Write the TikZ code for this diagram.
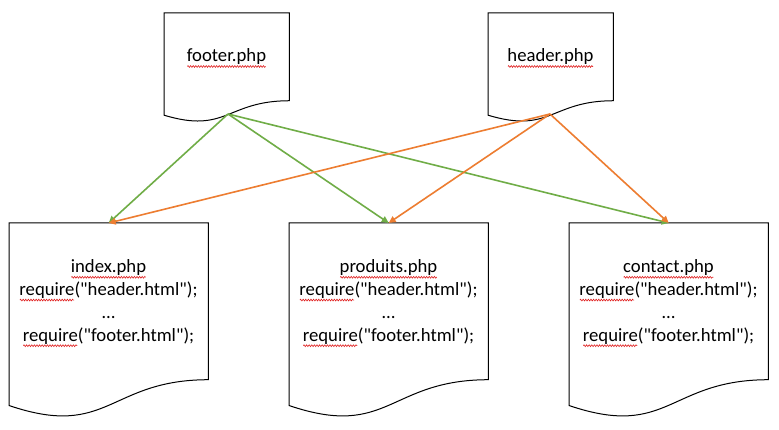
\documentclass[tikz,border=0pt]{standalone}
\usepackage{fontspec}
\newfontfamily\calibri{Carlito}
\usetikzlibrary{arrows.meta,calc,decorations.pathmorphing}
\definecolor{ogreen}{HTML}{70AD47}
\definecolor{oorange}{HTML}{ED7D31}
\definecolor{spellred}{HTML}{E02020}
\newbox\splbox
\newdimen\splw
\newcommand\spl[1]{\setbox\splbox=\hbox{#1}\splw=\wd\splbox
  \rlap{\tikz[overlay,baseline=0pt,x=1pt,y=1pt]\draw[spellred,line width=0.6pt,
    decorate,decoration={zigzag,amplitude=0.9pt,segment length=2.6pt}]
    (0.5,-4.5) -- (\splw-0.5pt,-4.5pt);}\box\splbox}
\newcommand\docpath[1]{%
  \draw[docline] let \p1=(#1.north west), \p2=(#1.south east),
    \n1={\x2-\x1}, \n2={\y1-\y2} in
    (\p1) -- (\x2,\y1) -- (\x2,{\y1-0.802*\n2})
    .. controls ({\x1+0.5*\n1},{\y1-0.802*\n2}) and ({\x1+0.5*\n1},{\y1-1.1075*\n2})
    .. (\x1,{\y1-0.934*\n2}) -- cycle;}
\tikzset{
  docbox/.style={rectangle, draw=none, inner sep=0pt, anchor=north west},
  topdoc/.style={docbox, minimum width=125pt, minimum height=109pt},
  botdoc/.style={docbox, minimum width=199pt, minimum height=195pt},
  docline/.style={draw=black, line width=1pt},
  txt/.style={align=center, inner sep=0pt, font=\calibri\fontsize{18.7}{22.8}\selectfont},
  link/.style={line width=1.6pt, -{Triangle[length=7pt,width=6.5pt]}},
  glink/.style={link, draw=ogreen, fill=ogreen},
  olink/.style={link, draw=oorange, fill=oorange},
}
\begin{document}
\begin{tikzpicture}[x=1pt,y=-1pt]
\useasboundingbox (0,0) rectangle (779,430);
\fill[white] (0,0) rectangle (779,430);
% document shapes
\node[topdoc] (footer) at (164,13) {};
\node[topdoc] (header) at (488,13) {};
\node[botdoc] (index) at (9,223) {};
\node[botdoc] (produits) at (289,223) {};
\node[botdoc] (contact) at (569,223) {};
\docpath{footer}
\docpath{header}
\docpath{index}
\docpath{produits}
\docpath{contact}
% texts
\node[txt] (footer-t) at (226.5,57) {\spl{footer.php}};
\node[txt] (header-t) at (550.5,57) {\spl{header.php}};
\node[txt] (index-t) at (108.5,302) {\spl{index.php}\\\spl{require}("header.html");\\…\\\spl{require}("footer.html");};
\node[txt] (produits-t) at (388.5,302) {\spl{produits.php}\\\spl{require}("header.html");\\…\\\spl{require}("footer.html");};
\node[txt] (contact-t) at (668.5,302) {\spl{contact.php}\\\spl{require}("header.html");\\…\\\spl{require}("footer.html");};
% connection points on the wavy bottoms
\coordinate (footer-out) at (228,114);
\coordinate (header-out) at (550,114);
% connectors
\draw[glink] (footer-out) -- (index.north);
\draw[glink] (footer-out) -- (produits.north);
\draw[glink] (footer-out) -- (contact.north);
\draw[olink] (header-out) -- (index.north);
\draw[olink] (header-out) -- (produits.north);
\draw[olink] (header-out) -- (contact.north);
\end{tikzpicture}
\end{document}
